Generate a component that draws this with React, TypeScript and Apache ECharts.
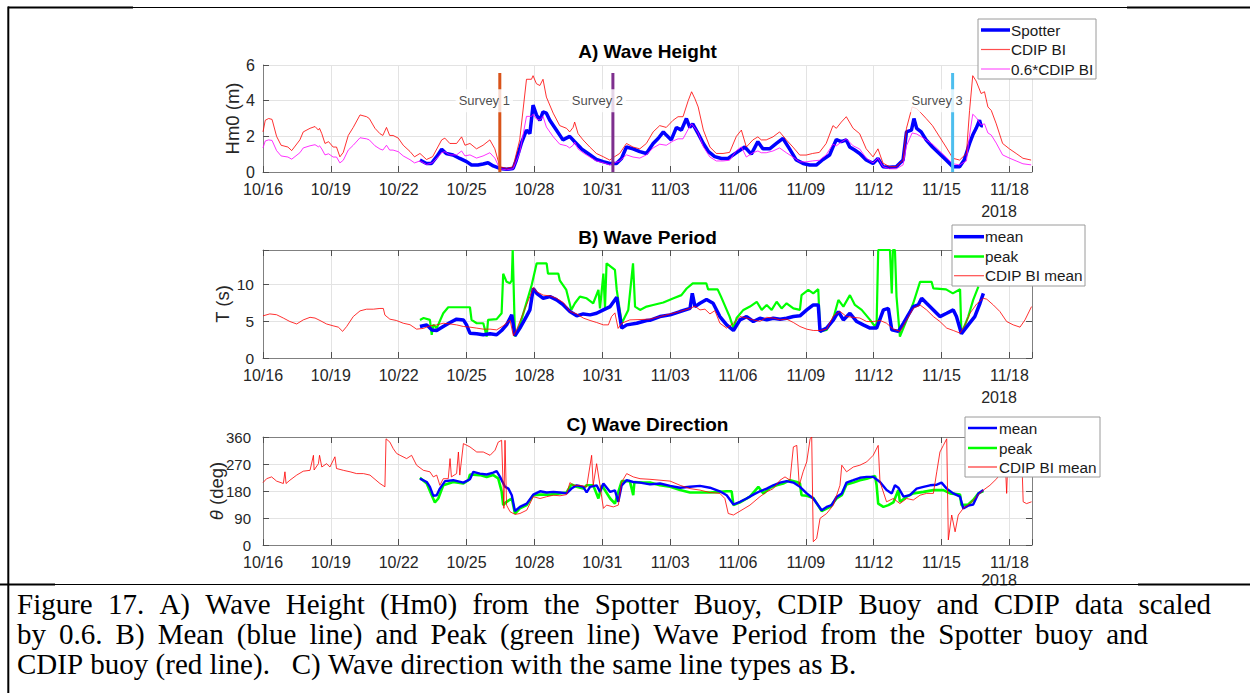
import React, { useEffect, useRef } from 'react';
import * as echarts from 'echarts';

// ---------------- data (x = days since 2018-10-16 00:00) ----------------
const cdipHm: number[][] = [[0,2.25],[0.1,2.9],[0.25,3.0],[0.4,2.95],[0.6,2.0],[0.8,1.5],[1.1,1.4],[1.27,1.2],[1.63,1.8],[1.78,2.25],[2.08,2.45],[2.3,2.55],[2.45,2.35],[2.5,2.45],[2.6,2.15],[2.74,1.6],[2.9,1.7],[3.1,1.4],[3.25,1.4],[3.4,0.85],[3.55,1.1],[3.77,2.05],[3.99,2.5],[4.29,3.2],[4.58,3.1],[4.7,3.0],[4.95,2.45],[5.17,2.15],[5.3,2.05],[5.46,2.5],[5.6,2.05],[5.75,2.05],[5.98,1.9],[6.2,1.5],[6.5,1.15],[6.7,0.85],[6.94,1.04],[7.23,0.7],[7.5,0.86],[7.9,1.8],[8.04,1.9],[8.26,1.6],[8.56,1.6],[8.78,1.97],[8.93,1.5],[9.15,1.6],[9.44,1.3],[9.73,1.5],[10.03,1.8],[10.25,1.3],[10.47,0.3],[10.77,0.2],[11.06,0.3],[11.35,1.8],[11.65,5.2],[11.87,5.2],[11.94,5.4],[12.09,4.95],[12.24,4.85],[12.38,5.2],[12.53,4.2],[12.83,3.3],[13.12,2.6],[13.42,2.45],[13.56,2.25],[13.71,2.5],[13.78,2.8],[13.93,2.15],[14.15,1.8],[14.45,1.4],[14.74,1.04],[15.04,0.86],[15.33,0.67],[15.55,0.86],[15.77,1.04],[16.07,1.6],[16.36,1.4],[16.66,1.3],[16.95,1.6],[17.25,2.25],[17.54,2.6],[17.83,2.5],[18.13,2.9],[18.35,3.1],[18.57,3.1],[18.8,4.0],[18.95,4.5],[19.1,4.1],[19.24,3.65],[19.47,2.35],[19.76,1.4],[20.04,1.04],[20.34,1.04],[20.63,1.1],[20.93,2.0],[21.15,2.35],[21.37,1.4],[21.66,1.8],[21.88,1.97],[22.03,1.8],[22.25,1.8],[22.55,1.97],[22.84,2.25],[23.14,1.8],[23.43,1.4],[23.73,0.95],[24.02,0.95],[24.3,1.04],[24.6,1.1],[24.9,1.6],[25.2,2.6],[25.35,2.45],[25.57,2.8],[25.79,3.1],[26.09,2.45],[26.38,2.15],[26.67,1.3],[26.97,0.85],[27.19,1.3],[27.41,0.5],[27.7,0.3],[28.0,0.3],[28.3,0.67],[28.45,2.45],[28.7,3.65],[28.9,3.55],[29.1,3.3],[29.32,3.0],[29.6,2.6],[29.9,2.0],[30.2,1.4],[30.5,0.77],[30.8,0.67],[31.1,1.04],[31.24,3.45],[31.38,5.4],[31.53,5.1],[31.75,4.4],[31.9,4.5],[32.05,3.65],[32.2,3.45],[32.42,2.7],[32.7,1.6],[33.0,1.3],[33.3,1.04],[33.6,0.77],[33.96,0.67]];

const spotterHm: number[][] = [[6.94,0.67],[7.23,0.48],[7.45,0.48],[7.68,0.86],[7.9,1.27],[8.1,1.04],[8.4,0.95],[8.7,0.76],[9.0,0.58],[9.22,0.39],[9.5,0.39],[9.73,0.45],[9.95,0.52],[10.18,0.34],[10.47,0.2],[10.77,0.15],[11.06,0.2],[11.2,0.67],[11.42,1.6],[11.65,2.35],[11.8,2.15],[11.94,3.75],[12.09,3.2],[12.24,2.9],[12.38,3.37],[12.53,3.3],[12.68,2.9],[12.97,2.35],[13.26,1.8],[13.56,2.0],[13.78,1.7],[14.08,1.3],[14.37,1.04],[14.74,0.7],[15.04,0.58],[15.33,0.48],[15.63,0.48],[15.85,0.76],[16.07,1.4],[16.36,1.3],[16.66,1.14],[16.95,1.04],[17.25,1.6],[17.47,1.88],[17.7,2.25],[17.83,2.07],[18.05,1.8],[18.28,2.5],[18.5,2.35],[18.72,3.0],[18.87,2.5],[19.0,2.7],[19.24,2.15],[19.47,1.6],[19.7,1.14],[19.97,0.86],[20.27,0.76],[20.56,0.76],[20.78,0.95],[21.0,1.14],[21.3,1.4],[21.59,1.0],[21.88,1.7],[22.1,1.3],[22.4,1.3],[22.7,1.6],[22.99,1.88],[23.28,1.3],[23.58,0.67],[23.88,0.48],[24.17,0.39],[24.46,0.39],[24.76,0.7],[25.05,0.95],[25.2,1.4],[25.35,1.82],[25.57,1.7],[25.79,1.8],[25.94,1.4],[26.16,1.23],[26.38,1.04],[26.67,0.67],[26.97,0.48],[27.19,0.76],[27.41,0.3],[27.7,0.26],[28.0,0.3],[28.3,0.67],[28.45,2.25],[28.67,2.35],[28.78,3.0],[28.9,2.45],[29.1,2.25],[29.32,1.8],[29.6,1.4],[29.9,1.04],[30.2,0.67],[30.5,0.3],[30.8,0.3],[31.0,0.67],[31.24,1.6],[31.38,2.07],[31.53,2.45],[31.68,2.9],[31.75,2.6],[31.83,2.6]];

// 0.6 * CDIP BI (the series is defined as the CDIP record scaled by 0.6)
const CDIP_SCALE = 0.6;
const scaledCdipHm: number[][] = cdipHm.map(([t, v]) => [t, Math.round(v * CDIP_SCALE * 100) / 100]);

const cdipPeriod: number[][] = [[0,5.7],[0.3,5.96],[0.6,5.85],[0.9,5.4],[1.19,4.93],[1.49,4.6],[1.78,5.15],[2.08,5.5],[2.3,5.4],[2.52,5.07],[2.81,4.6],[3.1,4.35],[3.33,4.17],[3.52,3.6],[3.7,4.26],[3.99,5.6],[4.29,6.37],[4.58,6.6],[4.88,6.6],[5.17,6.7],[5.32,6.7],[5.39,5.8],[5.61,5.25],[5.9,5.07],[6.2,4.7],[6.5,4.5],[6.79,3.9],[7.09,4.0],[7.38,4.35],[7.68,4.48],[7.97,4.7],[8.27,4.6],[8.56,4.48],[8.86,4.26],[9.15,4.17],[9.45,4.04],[9.74,3.9],[10.04,3.9],[10.33,3.8],[10.62,4.35],[10.92,5.15],[11.07,3.0],[11.21,3.8],[11.5,6.05],[11.8,8.3],[11.95,9.55],[12.1,8.97],[12.39,8.5],[12.69,8.4],[12.98,8.07],[13.28,7.5],[13.57,6.3],[13.87,5.96],[14.16,5.4],[14.46,5.07],[14.75,4.8],[15.05,4.48],[15.27,4.48],[15.41,5.6],[15.56,6.1],[15.7,4.0],[15.86,4.7],[16.22,5.15],[16.67,5.2],[17.1,5.25],[17.55,5.6],[18.0,5.96],[18.44,6.3],[18.88,6.7],[19.1,7.0],[19.32,6.5],[19.54,6.6],[19.76,5.96],[19.98,6.4],[20.2,4.7],[20.5,4.04],[20.8,4.7],[21.09,5.6],[21.38,5.4],[21.68,5.15],[21.97,4.95],[22.27,5.5],[22.56,5.4],[22.86,5.15],[23.15,5.25],[23.45,4.8],[23.74,4.26],[24.04,3.9],[24.33,3.72],[24.63,3.72],[24.92,3.9],[25.22,5.7],[25.51,6.3],[25.8,5.6],[26.1,5.5],[26.39,5.4],[26.69,4.93],[26.98,4.93],[27.28,5.07],[27.57,4.7],[27.87,3.9],[28.17,3.6],[28.46,5.15],[28.75,6.7],[29.05,7.17],[29.34,6.5],[29.64,5.6],[29.93,4.93],[30.23,4.04],[30.52,3.72],[30.82,3.36],[31.04,4.48],[31.26,6.05],[31.55,7.3],[31.85,8.07],[32.0,7.95],[32.29,7.17],[32.58,6.28],[32.88,4.93],[33.17,4.48],[33.47,4.17],[33.69,5.15],[33.98,6.95]];

const meanPeriod: number[][] = [[6.94,4.26],[7.24,4.48],[7.46,3.8],[7.68,3.72],[7.97,4.26],[8.27,4.8],[8.56,5.25],[8.86,5.15],[9.0,4.48],[9.15,3.36],[9.45,3.27],[9.74,3.14],[10.04,3.27],[10.33,3.14],[10.55,3.72],[10.77,4.48],[11.0,5.83],[11.14,3.0],[11.36,4.04],[11.66,5.7],[11.8,6.5],[11.95,9.4],[12.1,8.74],[12.39,8.07],[12.69,8.3],[12.98,7.85],[13.28,7.17],[13.57,6.28],[13.87,5.7],[14.16,5.96],[14.46,5.83],[14.75,6.05],[15.05,6.5],[15.35,6.95],[15.64,8.2],[15.86,4.04],[16.08,4.48],[16.52,4.7],[16.96,5.07],[17.1,5.1],[17.55,5.6],[18.0,5.83],[18.44,6.28],[18.88,6.7],[18.98,8.74],[19.1,6.95],[19.32,7.4],[19.61,7.9],[19.9,7.4],[20.2,5.6],[20.5,4.48],[20.8,3.72],[21.09,5.15],[21.38,5.6],[21.68,4.93],[21.97,5.38],[22.27,5.15],[22.56,5.38],[22.86,5.25],[23.15,5.38],[23.45,5.6],[23.74,5.7],[24.04,6.5],[24.33,7.17],[24.55,7.17],[24.63,3.6],[24.92,4.04],[25.22,5.15],[25.44,6.28],[25.66,5.15],[25.95,6.05],[26.25,4.93],[26.54,4.48],[26.84,4.04],[27.13,4.04],[27.43,6.5],[27.65,6.7],[27.8,3.8],[28.09,3.6],[28.32,4.7],[28.53,5.83],[28.75,6.95],[28.97,7.17],[29.12,8.07],[29.34,7.4],[29.64,6.5],[29.93,5.6],[30.23,6.05],[30.52,6.5],[30.66,5.6],[30.88,3.27],[31.18,4.48],[31.47,5.6],[31.7,7.4],[31.85,8.74]];

const peakPeriod: number[][] = [[6.94,5.15],[7.1,5.4],[7.38,5.15],[7.46,3.14],[7.53,4.5],[7.68,4.04],[7.97,6.05],[8.19,6.86],[9.15,6.86],[9.22,5.15],[9.45,4.7],[9.74,4.7],[9.89,2.9],[9.95,5.15],[10.33,5.25],[10.55,6.05],[10.62,11.4],[10.77,10.3],[10.92,10.1],[11.0,10.5],[11.04,14.6],[11.14,2.9],[11.36,4.48],[11.88,9.86],[12.1,12.8],[12.54,12.8],[12.6,11.4],[13.06,11.4],[13.12,10.5],[13.41,9.2],[13.63,6.5],[13.79,7.4],[14.01,8.3],[14.31,8.07],[14.6,7.4],[14.83,9.2],[14.9,6.7],[15.05,11.4],[15.12,6.7],[15.19,12.8],[15.56,11.9],[15.64,9.2],[15.86,4.7],[16.15,6.5],[16.36,12.8],[16.45,6.95],[16.67,6.5],[16.96,6.95],[17.25,7.17],[17.7,7.5],[18.15,8.07],[18.5,8.5],[18.73,9.4],[19.0,10.1],[19.6,10.1],[19.68,9.28],[20.1,9.28],[20.25,8.3],[20.63,5.6],[20.8,4.04],[20.94,5.4],[21.24,6.5],[21.53,6.95],[21.83,7.6],[22.05,6.5],[22.27,7.17],[22.49,6.5],[22.71,7.6],[22.93,6.7],[23.15,7.4],[23.45,6.7],[23.74,6.5],[23.81,8.5],[24.11,9.2],[24.33,8.74],[24.55,9.3],[24.63,3.6],[24.92,3.8],[25.22,5.4],[25.44,7.85],[25.66,6.95],[25.95,8.5],[26.17,7.17],[26.47,6.5],[26.84,5.15],[27.06,4.26],[27.13,4.7],[27.2,14.6],[27.72,14.6],[27.8,8.74],[27.85,14.6],[27.94,14.6],[28.01,8.3],[28.16,2.9],[28.46,5.15],[28.75,7.4],[29.05,10.3],[29.56,10.3],[29.64,9.4],[30.2,9.28],[30.5,8.74],[30.82,9.3],[30.88,3.27],[31.18,5.6],[31.4,7.85],[31.63,9.64]];

const cdipDir: number[][] = [[0,208],[0.16,221],[0.38,227],[0.6,213],[0.9,205],[0.97,244],[1.02,205],[1.19,216],[1.49,233],[1.78,246],[2.08,249],[2.23,299],[2.26,250],[2.45,271],[2.5,299],[2.6,260],[2.81,271],[2.96,260],[3.18,294],[3.25,255],[3.55,249],[3.85,244],[4.14,238],[4.44,238],[4.73,233],[4.95,219],[5.17,205],[5.39,194],[5.44,354],[5.61,343],[5.76,321],[5.91,305],[6.06,299],[6.35,288],[6.57,299],[6.79,266],[7.09,249],[7.38,244],[7.53,227],[7.68,233],[7.82,199],[7.97,221],[8.19,221],[8.27,288],[8.33,227],[8.56,238],[8.64,310],[8.7,233],[8.86,338],[9.15,327],[9.45,310],[9.74,310],[10.04,299],[10.26,316],[10.4,343],[10.55,349],[10.65,122],[10.7,349],[10.77,133],[10.92,111],[11.14,102],[11.36,105],[11.66,116],[11.95,161],[12.25,155],[12.54,161],[12.84,166],[13.13,164],[13.42,168],[13.57,208],[13.72,199],[14.01,199],[14.31,194],[14.53,299],[14.6,199],[14.75,271],[14.9,199],[15.05,122],[15.19,133],[15.49,127],[15.71,133],[15.86,210],[16.08,238],[16.37,227],[16.67,221],[17.11,219],[17.55,216],[18.0,213],[18.44,199],[18.88,188],[19.32,183],[19.76,175],[20.2,172],[20.42,155],[20.57,105],[20.8,100],[21.09,113],[21.53,133],[21.97,161],[22.27,177],[22.56,188],[22.86,216],[23.08,227],[23.3,216],[23.45,327],[23.6,332],[23.71,199],[23.88,244],[24.04,277],[24.19,354],[24.26,360],[24.33,11],[24.48,22],[24.63,89],[24.92,105],[25.22,133],[25.51,199],[25.59,266],[25.8,244],[26.1,260],[26.39,266],[26.69,277],[26.98,299],[27.2,332],[27.28,210],[27.57,144],[27.87,155],[28.16,138],[28.46,155],[28.75,150],[29.05,166],[29.34,172],[29.64,172],[29.79,244],[29.93,310],[30.08,332],[30.23,354],[30.3,17],[30.45,100],[30.6,44],[30.74,100],[30.96,122],[31.26,138],[31.55,161],[31.85,183],[32.14,199],[32.44,221],[32.66,244],[32.81,288],[32.88,172],[32.95,320],[33.03,332],[33.32,280],[33.54,310],[33.61,144],[33.76,138],[33.98,144]];

const meanDir: number[][] = [[6.94,221],[7.24,210],[7.38,194],[7.53,164],[7.68,166],[7.82,188],[8.05,213],[8.41,216],[8.86,208],[9.15,219],[9.3,244],[9.59,238],[9.89,235],[10.18,241],[10.33,246],[10.48,227],[10.7,194],[10.85,188],[11.0,166],[11.14,113],[11.36,127],[11.66,138],[11.95,168],[12.25,179],[12.54,175],[12.84,177],[13.13,175],[13.42,172],[13.64,188],[13.87,199],[14.16,194],[14.31,175],[14.46,194],[14.75,199],[14.9,177],[15.05,205],[15.35,177],[15.56,182],[15.71,144],[15.86,199],[16.08,216],[16.37,210],[16.67,208],[17.11,202],[17.55,205],[18.0,197],[18.44,191],[18.88,194],[19.32,197],[19.76,191],[20.2,179],[20.5,166],[20.8,135],[21.09,144],[21.38,155],[21.68,168],[21.97,179],[22.27,188],[22.56,199],[22.86,208],[23.15,213],[23.45,208],[23.74,194],[24.04,172],[24.33,155],[24.7,116],[24.92,127],[25.14,133],[25.36,160],[25.59,172],[25.8,208],[26.1,216],[26.39,224],[26.69,227],[26.98,227],[27.28,210],[27.57,183],[27.8,172],[27.94,199],[28.09,191],[28.32,161],[28.6,166],[28.9,188],[29.2,194],[29.49,199],[29.79,201],[30.0,208],[30.23,188],[30.52,172],[30.82,161],[30.96,122],[31.18,131],[31.4,135],[31.63,172],[31.85,183]];

const peakDir: number[][] = [[6.94,224],[7.24,205],[7.46,166],[7.6,142],[7.75,155],[7.97,199],[8.41,210],[8.86,205],[9.08,216],[9.15,235],[9.59,233],[9.89,227],[10.18,233],[10.4,222],[10.55,179],[10.62,133],[10.77,144],[11.0,155],[11.14,105],[11.36,122],[11.66,133],[11.95,166],[12.25,168],[12.69,168],[13.13,172],[13.42,175],[13.64,202],[13.87,194],[14.16,188],[14.31,199],[14.6,199],[14.83,155],[14.98,199],[15.35,155],[15.56,138],[15.71,177],[15.86,213],[16.22,213],[16.37,166],[16.42,210],[16.81,208],[17.11,208],[17.55,199],[18.0,194],[18.44,183],[18.88,175],[19.32,175],[19.76,175],[20.2,177],[20.5,179],[20.72,179],[20.8,133],[21.09,142],[21.53,161],[21.9,194],[22.12,172],[22.42,191],[22.71,199],[23.0,205],[23.3,216],[23.6,210],[23.74,205],[23.81,166],[24.04,164],[24.33,157],[24.7,113],[25.07,127],[25.36,155],[25.59,166],[25.8,202],[26.1,208],[26.39,216],[26.69,221],[27.06,230],[27.13,199],[27.2,138],[27.43,127],[27.65,133],[27.87,142],[28.09,183],[28.16,144],[28.46,161],[28.75,172],[29.2,177],[29.64,183],[30.08,183],[30.38,172],[30.82,168],[30.88,133],[31.18,135],[31.4,150],[31.63,172],[31.85,180]];

const surveyNames = ['Survey 1', 'Survey 2', 'Survey 3'];
const surveyDays = [10.47, 15.47, 30.49];
const surveyColors = ['#D95319', '#7E2F8E', '#4DBEEE'];
const SURVEY_TOP = 5.55;
const SURVEY_LABEL_Y = 4;

const X_MIN = 0, X_MAX = 34, X_STEP = 3; // 10/16 .. 11/19, ticks every 3 days
const START_Y = 2018, START_M = 9, START_D = 16;

const captionLines = [
  'Figure 17. A) Wave Height (Hm0) from the Spotter Buoy, CDIP Buoy and CDIP data scaled',
  'by 0.6. B) Mean (blue line) and Peak (green line) Wave Period from the Spotter buoy and',
  'CDIP buoy (red line).   C) Wave direction with the same line types as B.',
];

// ---------------- styling / layout ----------------
const SANS = '"Liberation Sans", Arial, Helvetica, sans-serif';
const SERIF = '"Liberation Serif", "Times New Roman", serif';
const TXT = '#262626';
const AXIS = '#808080';
const TICK = '#505050';
const GRIDC = '#e3e3e3';
const PLOT_L = 263, PLOT_W = 769;
const GRIDS = [
  { top: 65, height: 107 },
  { top: 250, height: 108 },
  { top: 437, height: 108 },
];

function fmtDay(v: number): string {
  const k = v / X_STEP;
  if (Math.abs(k - Math.round(k)) > 1e-6) return '';
  const d = new Date(START_Y, START_M, START_D + Math.round(v));
  return String(d.getMonth() + 1).padStart(2, '0') + '/' + String(d.getDate()).padStart(2, '0');
}

function xAx(gi: number, pos: 'bottom' | 'top') {
  const main = pos === 'bottom';
  return {
    type: 'value', gridIndex: gi, position: pos, min: X_MIN, max: X_MAX, interval: X_STEP,
    axisLine: { show: true, onZero: false, lineStyle: { color: AXIS, width: 1 } },
    axisTick: { show: true, inside: true, length: 6, lineStyle: { color: TICK, width: 1 } },
    axisLabel: { show: main, margin: 9.5, formatter: fmtDay, fontSize: 16, color: TXT, fontFamily: SANS },
    splitLine: { show: main, lineStyle: { color: GRIDC, width: 1 } },
  };
}

function yAx(gi: number, pos: 'left' | 'right', max: number, step: number, margin: number, size: number) {
  const main = pos === 'left';
  return {
    type: 'value', gridIndex: gi, position: pos, min: 0, max, interval: step,
    axisLine: { show: true, onZero: false, lineStyle: { color: AXIS, width: 1 } },
    axisTick: { show: true, inside: true, length: 6, lineStyle: { color: TICK, width: 1 } },
    axisLabel: {
      show: main, margin, fontSize: size, color: TXT, fontFamily: SANS,
      formatter: (v: number) => { const k = v / step; return Math.abs(k - Math.round(k)) < 1e-6 ? String(Math.round(v)) : ''; },
    },
    splitLine: { show: main, lineStyle: { color: GRIDC, width: 1 } },
  };
}

function line(name: string, data: number[][], xi: number, yi: number, color: string, width: number, z: number, opacity = 1) {
  return {
    name, type: 'line', xAxisIndex: xi, yAxisIndex: yi, data, symbol: 'none', showSymbol: false,
    lineStyle: { color, width, opacity }, z, silent: true, clip: true, emphasis: { disabled: true },
  };
}

function txt(x: number, y: number, text: string, size: number, opts: any = {}) {
  return {
    type: 'text', x, y, z: opts.z ?? 50, rotation: opts.rotation ?? 0, silent: true,
    style: {
      text, fontSize: size, fontFamily: opts.family ?? SANS, fontWeight: opts.weight ?? 'normal',
      fill: opts.fill ?? TXT, align: opts.align ?? 'center', verticalAlign: 'middle', rich: opts.rich,
    },
  };
}

function hline(x1: number, x2: number, y: number, w: number, z = 110, color = '#000') {
  return { type: 'line', z, silent: true, shape: { x1, y1: y, x2, y2: y }, style: { stroke: color, lineWidth: w } };
}
function vline(x: number, y1: number, y2: number, w: number, z = 110, color = '#000') {
  return { type: 'line', z, silent: true, shape: { x1: x, y1, x2: x, y2 }, style: { stroke: color, lineWidth: w } };
}

function legendBox(x: number, y: number, w: number, h: number, lx0: number, lx1: number, tx: number,
  items: { label: string; color: string; width: number; y: number }[]) {
  const els: any[] = [{
    type: 'rect', z: 60, silent: true, shape: { x, y, width: w, height: h },
    style: { fill: '#fff', stroke: '#9a9a9a', lineWidth: 1 },
  }];
  items.forEach((it) => {
    els.push({ type: 'line', z: 61, silent: true, shape: { x1: lx0, y1: it.y, x2: lx1, y2: it.y },
      style: { stroke: it.color, lineWidth: it.width } });
    els.push(txt(tx, it.y, it.label, 15.3, { align: 'left', fill: '#1a1a1a', z: 62 }));
  });
  return els;
}

function captionElements(): any[] {
  const size = 29;
  const canvas = document.createElement('canvas');
  const ctx = canvas.getContext('2d')!;
  ctx.font = `${size}px "Liberation Serif"`;
  const left = 17;
  const rights: (number | null)[] = [1211, 1148, null];
  const centers = [604, 634, 664];
  const els: any[] = [];
  captionLines.forEach((ln, i) => {
    const words = ln.split(' ');
    const sp = ctx.measureText(' ').width;
    const widths = words.map((w) => ctx.measureText(w).width);
    const natural = widths.reduce((a, b) => a + b, 0) + sp * (words.length - 1);
    const r = rights[i];
    const extra = r === null ? 0 : (r - left - natural) / Math.max(1, words.length - 1);
    let x = left;
    words.forEach((w, j) => {
      if (w.length) els.push(txt(x, centers[i], w, size, { align: 'left', family: SERIF, fill: '#000', z: 100 }));
      x += widths[j] + sp + extra;
    });
  });
  return els;
}

export default function App() {
  const ref = useRef<HTMLDivElement>(null);
  useEffect(() => {
    if (!ref.current) return;
    const chart = echarts.init(ref.current, undefined, { renderer: 'svg', width: 1250, height: 693 });

    const series: any[] = [
      // A
      line('Spotter', spotterHm, 0, 0, '#0000FF', 3.5, 3),
      line('CDIP BI', cdipHm, 0, 0, '#FF0000', 0.9, 4, 0.9),
      line('0.6*CDIP BI', scaledCdipHm, 0, 0, '#FF00FF', 0.9, 4, 0.9),
      // B
      line('peak', peakPeriod, 1, 1, '#00FF00', 2.2, 3),
      line('mean', meanPeriod, 1, 1, '#0000FF', 3.5, 4),
      line('CDIP BI mean', cdipPeriod, 1, 1, '#FF0000', 0.9, 5, 0.9),
      // C
      line('peak ', peakDir, 3, 3, '#00FF00', 2.6, 3),
      line('mean ', meanDir, 3, 3, '#0000FF', 2.4, 4),
      line('CDIP BI mean ', cdipDir, 3, 3, '#FF0000', 0.9, 5, 0.9),
    ];
    surveyDays.forEach((d, i) => {
      series.push(line(surveyNames[i], [[d, 0], [d, SURVEY_TOP]], 0, 0, surveyColors[i], 3, 6));
    });
    series.push({
      type: 'scatter', xAxisIndex: 0, yAxisIndex: 0, symbolSize: 0, z: 7, silent: true,
      data: surveyDays.map((d, i) => ({ value: [d, SURVEY_LABEL_Y], name: surveyNames[i] })),
      label: {
        show: true, position: 'inside', offset: [-15.5, 0], formatter: '{b}', fontSize: 13,
        color: '#1a1a1a', fontFamily: SANS, backgroundColor: '#fff', padding: [5, 3],
      },
      emphasis: { disabled: true },
    });

    const graphics: any[] = [
      txt(647.5, 51, 'A) Wave Height', 19, { weight: 'bold', fill: '#000' }),
      txt(647.5, 237.5, 'B) Wave Period', 19, { weight: 'bold', fill: '#000' }),
      txt(647.5, 424, 'C) Wave Direction', 19, { weight: 'bold', fill: '#000' }),
      txt(232.5, 118.5, 'Hm0 (m)', 18.5, { rotation: Math.PI / 2 }),
      txt(222, 304, 'T (s)', 18.5, { rotation: Math.PI / 2 }),
      txt(216.5, 491, '{i|θ} (deg)', 18.5, { rotation: Math.PI / 2, rich: { i: { fontStyle: 'italic', fontSize: 18.5, fontFamily: SANS, fill: TXT } } }),
      txt(999, 211.5, '2018', 16),
      txt(999, 397.5, '2018', 16),
      txt(999, 580.5, '2018', 16),
      { type: 'rect', z: 99, silent: true, shape: { x: 970, y: 585.5, width: 60, height: 3.5 }, style: { fill: '#fff' } },
      ...legendBox(978, 19, 118, 60, 981, 1010, 1011, [
        { label: 'Spotter', color: '#0000FF', width: 3.5, y: 30 },
        { label: 'CDIP BI', color: '#FF4D4D', width: 1.2, y: 49.5 },
        { label: '0.6*CDIP BI', color: '#FF55FF', width: 1.2, y: 69 },
      ]),
      ...legendBox(952, 225, 133, 61, 954, 984, 985, [
        { label: 'mean', color: '#0000FF', width: 3.5, y: 236.7 },
        { label: 'peak', color: '#00FF00', width: 2.5, y: 256.5 },
        { label: 'CDIP BI mean', color: '#FF4D4D', width: 1.2, y: 275.7 },
      ]),
      ...legendBox(965, 417, 135, 60, 968, 997, 999, [
        { label: 'mean', color: '#0000FF', width: 2.5, y: 428 },
        { label: 'peak', color: '#00FF00', width: 2.5, y: 448 },
        { label: 'CDIP BI mean', color: '#FF3333', width: 1.2, y: 467 },
      ]),
      // table borders
      hline(8, 133, 7.5, 2),
      hline(133, 1127, 7.5, 1),
      hline(1127, 1250, 7.5, 2),
      vline(8.3, 6.5, 693, 2),
      hline(0, 1250, 584.5, 1),
      hline(0, 55, 584.5, 2),
      hline(1138, 1250, 584.5, 2),
      ...captionElements(),
    ];

    const option: any = {
      animation: false,
      backgroundColor: '#ffffff',
      grid: GRIDS.map((g) => ({ left: PLOT_L, top: g.top, width: PLOT_W, height: g.height, show: false })),
      xAxis: [xAx(0, 'bottom'), xAx(1, 'bottom'), xAx(1, 'top'), xAx(2, 'bottom'), xAx(2, 'top')],
      yAxis: [
        yAx(0, 'left', 6, 2, 8, 16),
        yAx(1, 'left', 14.6, 5, 9, 15.5),
        yAx(1, 'right', 14.6, 5, 9, 15.5),
        yAx(2, 'left', 360, 90, 12, 15),
        yAx(2, 'right', 360, 90, 12, 15),
      ],
      series,
      graphic: { elements: graphics },
    };
    chart.setOption(option);
    return () => chart.dispose();
  }, []);

  return (
    <div
      ref={ref}
      style={{ position: 'absolute', left: 0, top: 0, width: 1250, height: 693, background: '#fff' }}
    />
  );
}
